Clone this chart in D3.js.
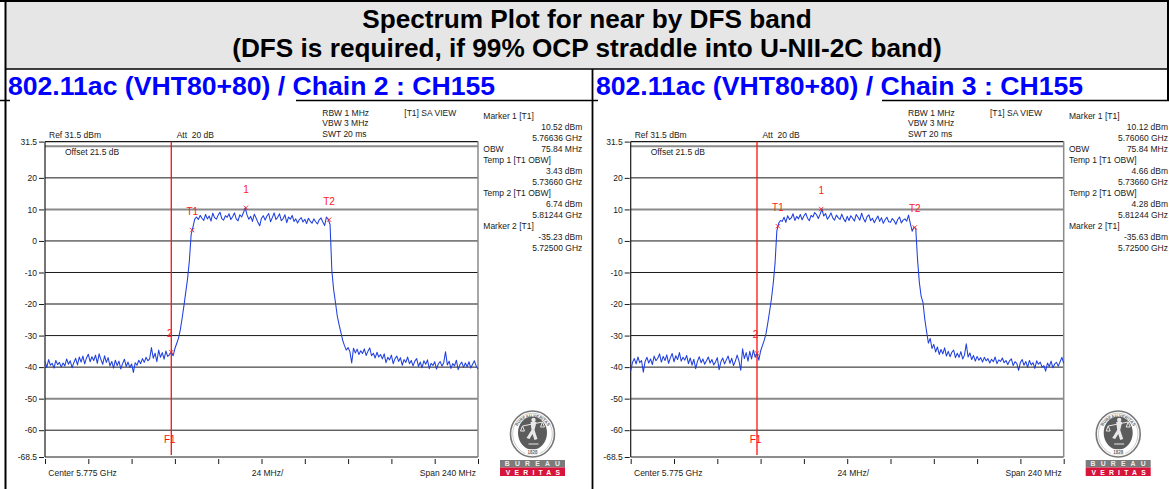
<!DOCTYPE html>
<html>
<head>
<meta charset="utf-8">
<script src="https://cdn.jsdelivr.net/npm/d3@7/dist/d3.min.js"></script>
<style>
  html, body { margin: 0; padding: 0; background: #fff; }
  svg { display: block; }
  text { font-family: "Liberation Sans", Arial, sans-serif; }
</style>
</head>
<body>
<svg id="chart" width="1169" height="489"></svg>
<script>
// ---------- data ----------
const titleLines = [
  "Spectrum Plot for near by DFS band",
  "(DFS is required, if 99% OCP straddle into U-NII-2C band)"
];
const panelTitles = [
  "802.11ac (VHT80+80) / Chain 2 : CH155",
  "802.11ac (VHT80+80) / Chain 3 : CH155"
];

// sweep: 241 points, 1 MHz apart, starting at 5.655 GHz (span 240 MHz)
const sweepStartGHz = 5.655;
const sweepStepGHz = 0.001;

// trace levels in dBm
const chain2Trace = [
  -38.2, -40.1, -37.6, -39.4, -38.8, -40.3, -37.9, -39.2, -38.5, -40.0,
  -38.7, -39.6, -37.4, -39.1, -38.0, -40.2, -38.6, -37.2, -39.3, -36.8,
  -38.4, -36.5, -39.0, -37.1, -35.9, -38.3, -36.7, -37.9, -36.2, -38.8,
  -35.8, -37.6, -39.1, -36.4, -38.5, -37.0, -39.6, -38.2, -40.3, -37.8,
  -39.5, -38.1, -40.6, -38.9, -37.5, -39.8, -38.4, -40.1, -39.0, -41.7,
  -38.6, -39.4, -37.8, -38.9, -37.3, -38.5, -36.9, -38.0, -37.4, -33.8,
  -37.2, -35.6, -38.3, -34.6, -36.9, -35.4, -37.5, -34.9, -36.6, -36.1,
  -35.23, -36.4, -34.1, -32.5, -30.8, -28.2, -24.5, -20.6, -16.3, -12.1,
  -6.4, 2.0, 4.4, 6.9, 7.6, 6.8, 8.1, 7.2, 6.5, 8.4,
  7.0, 7.9, 6.3, 8.8, 7.4, 6.9, 8.2, 9.1, 7.1, 6.6,
  8.0, 7.5, 8.6, 6.8, 7.7, 8.9, 7.0, 6.4, 8.3, 7.6,
  9.0, 10.52, 8.2, 6.9, 7.8, 6.2, 8.5, 7.3, 5.9, 4.8,
  7.2, 8.0, 6.6, 7.9, 8.7, 6.1, 7.4, 8.9, 6.8, 7.5,
  8.6, 6.4, 7.1, 8.3, 5.8, 7.6, 6.9, 8.1, 6.2, 7.0,
  5.7, 6.8, 7.4, 6.0, 6.9, 5.5, 7.2, 6.3, 5.6, 7.0,
  6.1, 5.4, 6.7, 7.3, 6.0, 4.9, 7.6, 6.8, 5.2, -9.5,
  -15.5, -19.5, -23.8, -26.5, -29.0, -31.5, -33.2, -34.6, -33.8, -35.1,
  -38.7, -34.0, -35.5, -34.3, -36.0, -34.8, -35.7, -34.2, -36.3, -35.0,
  -33.9, -36.4, -35.6, -37.1, -35.3, -36.8, -36.0, -37.4, -35.8, -38.6,
  -36.9, -37.7, -36.2, -38.9, -37.3, -36.5, -38.2, -37.0, -39.4, -37.6,
  -38.5, -36.8, -38.9, -37.9, -39.6, -38.1, -37.3, -39.8, -38.4, -40.2,
  -38.0, -39.1, -37.7, -40.5, -38.8, -39.5, -38.3, -40.6, -39.0, -38.2,
  -39.7, -38.6, -35.1, -39.3, -38.1, -40.4, -38.9, -39.6, -37.8, -40.8,
  -39.2, -38.4, -40.1, -38.7, -39.9, -38.3, -40.3, -39.1, -38.0, -39.7,
  -40.6
];

const chain3Trace = [
  -41.2, -38.5, -37.3, -39.0, -36.8, -38.6, -37.9, -41.6, -38.2, -36.9,
  -38.7, -37.4, -39.2, -36.5, -38.0, -37.2, -35.8, -38.4, -36.6, -37.9,
  -36.1, -38.8, -37.0, -35.7, -38.3, -36.4, -37.6, -35.4, -38.1, -36.9,
  -37.8, -36.3, -38.9, -37.1, -39.4, -37.5, -40.5, -38.2, -36.7, -38.6,
  -37.4, -39.1, -38.0, -36.8, -38.7, -37.6, -39.3, -38.4, -37.0, -40.8,
  -38.3, -37.1, -39.0, -37.7, -36.5, -38.8, -37.2, -39.5, -38.1, -36.2,
  -38.0, -41.0, -34.2, -37.3, -35.4, -38.1, -35.0, -37.4, -34.6, -36.9,
  -35.63, -37.8, -34.9, -33.2, -31.5, -29.4, -26.0, -22.3, -18.4, -13.5,
  -7.2, 3.2, 5.6, 6.5, 6.2, 7.5, 5.9, 8.0, 6.8, 7.3,
  8.6, 6.5, 7.8, 7.0, 8.4, 6.7, 7.9, 8.8, 7.2, 6.4,
  8.1, 7.6, 9.0, 8.3, 7.1, 8.5, 10.12, 7.9, 8.7, 6.9,
  7.7, 8.9, 7.3, 6.6, 8.2, 7.4, 6.8, 8.5, 7.0, 6.1,
  7.8, 6.5, 8.0, 7.2, 6.3, 8.4, 7.5, 6.6, 8.8, 7.1,
  6.0, 7.7, 8.3, 6.4, 7.2, 5.8, 6.9, 7.9, 6.2, 7.4,
  5.6, 6.7, 7.5, 6.1, 5.9, 7.1, 6.4, 5.3, 6.8, 7.6,
  5.7, 6.6, 7.0, 6.3, 8.2, 5.5, 3.1, 4.4, 3.9, -6.0,
  -13.2, -17.6, -19.5, -24.8, -28.7, -32.4, -30.9, -34.1, -32.8, -35.2,
  -33.6, -36.0, -34.4, -35.8, -33.9, -36.5, -35.0, -36.7, -35.3, -34.6,
  -37.0, -35.6, -36.9, -35.1, -37.4, -36.2, -32.6, -36.8, -35.5, -37.6,
  -36.3, -38.1, -36.6, -37.8, -37.0, -38.4, -36.9, -38.0, -37.3, -38.7,
  -37.5, -38.3, -36.8, -38.9, -37.7, -38.2, -37.1, -38.6, -37.9, -39.2,
  -38.0, -37.4, -39.5, -38.3, -38.8, -41.0, -38.5, -37.6, -39.4, -38.2,
  -40.1, -37.9, -39.3, -38.6, -40.4, -38.0, -39.1, -38.4, -40.0, -39.5,
  -41.3, -38.7, -39.8, -38.1, -40.2, -39.0, -38.5, -39.7, -38.3, -36.9,
  -38.8
];

// level axis
const yTickValues = [31.5, 20, 10, 0, -10, -20, -30, -40, -50, -60, -68.5];
const gridLevels  = [30, 20, 10, 0, -10, -20, -30, -40, -50, -60];
const heavyGridLevels = [30, 10, -20, -50];
// frequency divisions, 24 MHz apart
const freqTicks = [5.655, 5.679, 5.703, 5.727, 5.751, 5.775, 5.799, 5.823, 5.847, 5.871, 5.895];

// markers: frequency (GHz), level (dBm)
const chain2Markers = [
  { id: "1",  name: "Marker 1 [T1]",   f: 5.76636, v: 10.52 },
  { id: "T1", name: "Temp 1 [T1 OBW]", f: 5.73660, v: 3.43 },
  { id: "T2", name: "Temp 2 [T1 OBW]", f: 5.81244, v: 6.74 },
  { id: "2",  name: "Marker 2 [T1]",   f: 5.72500, v: -35.23 }
];
const chain3Markers = [
  { id: "1",  name: "Marker 1 [T1]",   f: 5.76060, v: 10.12 },
  { id: "T1", name: "Temp 1 [T1 OBW]", f: 5.73660, v: 4.66 },
  { id: "T2", name: "Temp 2 [T1 OBW]", f: 5.81244, v: 4.28 },
  { id: "2",  name: "Marker 2 [T1]",   f: 5.72500, v: -35.63 }
];
const obwMHz = [75.84, 75.84];
const displayLineF1 = 5.725;

const settingsLines = ["RBW 1 MHz", "VBW 3 MHz", "SWT 20 ms"];
const refText = "Ref 31.5 dBm";
const attText = "Att  20 dB";
const offsetText = "Offset 21.5 dB";
const modeText = "[T1] SA VIEW";
const centerText = "Center 5.775 GHz";
const divText = "24 MHz/";
const spanText = "Span 240 MHz";

// ---------- drawing ----------
const svg = d3.select("#chart");
const W = 1169, H = 489;

// title block
svg.append("rect").attr("x", 6).attr("y", 1).attr("width", W - 7).attr("height", 68)
  .attr("fill", "#e6e6e6");
svg.selectAll("text.title").data(titleLines).join("text")
  .attr("class", "title")
  .attr("x", 587).attr("y", (d, i) => 28 + i * 28.5)
  .attr("text-anchor", "middle")
  .attr("font-size", 26.2).attr("font-weight", "bold").attr("fill", "#000")
  .text(d => d);

// table rules
const rule = (x1, y1, x2, y2, w) => svg.append("line")
  .attr("x1", x1).attr("y1", y1).attr("x2", x2).attr("y2", y2)
  .attr("stroke", "#000").attr("stroke-width", w);
rule(0, 1, W, 1, 2);
rule(5.5, 0, 5.5, H, 2);
rule(W - 1, 0, W - 1, 100, 2);
rule(5, 69, W, 69, 1.5);
rule(592.5, 69, 592.5, H, 1.8);
rule(0, 100.5, 10, 100.5, 1.5);
rule(296, 100.5, 598, 100.5, 1.5);
rule(882, 100.5, W, 100.5, 1.5);

// panel headings
svg.selectAll("text.ptitle").data(panelTitles).join("text")
  .attr("class", "ptitle")
  .attr("x", (d, i) => i === 0 ? 8 : 596).attr("y", 94.5)
  .attr("font-size", 26.6).attr("font-weight", "bold").attr("fill", "#0000ff")
  .text(d => d);

function drawPanel(ox, trace, markers, obw) {
  const g = svg.append("g").attr("transform", `translate(${ox},0)`);
  const x = d3.scaleLinear().domain([5.655, 5.895]).range([45, 478]);
  const y = d3.scaleLinear().domain([-68.5, 31.5]).range([457, 141.6]);
  const small = 8.5;

  // grid
  g.selectAll("line.grid").data(gridLevels).join("line")
    .attr("x1", x(5.655)).attr("x2", x(5.895))
    .attr("y1", d => y(d)).attr("y2", d => y(d))
    .attr("stroke", d => heavyGridLevels.includes(d) ? "#8a8a8a" : "#1a1a1a")
    .attr("stroke-width", d => heavyGridLevels.includes(d) ? 2 : 1);

  // frame
  g.append("line").attr("x1", x(5.655)).attr("x2", x(5.895)).attr("y1", y(31.5)).attr("y2", y(31.5))
    .attr("stroke", "#1a1a1a").attr("stroke-width", 1.2);
  g.append("line").attr("x1", x(5.655)).attr("x2", x(5.895)).attr("y1", y(-68.5)).attr("y2", y(-68.5))
    .attr("stroke", "#1a1a1a").attr("stroke-width", 1);
  g.append("line").attr("x1", x(5.655)).attr("x2", x(5.655)).attr("y1", y(31.5)).attr("y2", y(-68.5))
    .attr("stroke", "#1a1a1a").attr("stroke-width", 1.2);
  g.append("line").attr("x1", x(5.895)).attr("x2", x(5.895)).attr("y1", y(31.5)).attr("y2", y(-68.5))
    .attr("stroke", "#8a8a8a").attr("stroke-width", 1.5);

  // level axis
  const ya = g.append("g").attr("transform", `translate(${x(5.655) - 1},0)`)
    .call(d3.axisLeft(y).tickValues(yTickValues).tickSize(5).tickPadding(2)
      .tickFormat(d => String(d)));
  ya.select(".domain").remove();
  ya.selectAll("line").attr("stroke", "#1a1a1a");
  ya.selectAll("text").attr("font-size", small).attr("fill", "#1a1a1a")
    .attr("font-family", "'Liberation Sans', Arial, sans-serif");

  // frequency divisions
  const xa = g.append("g").attr("transform", "translate(0,459)")
    .call(d3.axisBottom(x).tickValues(freqTicks).tickSize(5).tickFormat(""));
  xa.select(".domain").remove();
  xa.selectAll("line").attr("stroke", "#1a1a1a");

  // display line F1
  g.append("line").attr("x1", x(displayLineF1)).attr("x2", x(displayLineF1))
    .attr("y1", y(31.5)).attr("y2", 455)
    .attr("stroke", "#ff1010").attr("stroke-width", 1.3);
  g.append("text").attr("x", x(displayLineF1) - 1.5).attr("y", 442.5)
    .attr("text-anchor", "middle").attr("font-family", "'Liberation Serif', serif")
    .attr("font-size", 10).attr("fill", "#ff1010").text("F1");

  // trace
  const pts = trace.map((v, i) => [sweepStartGHz + i * sweepStepGHz, v]);
  g.append("path").datum(pts)
    .attr("fill", "none").attr("stroke", "#1f3fdf").attr("stroke-width", 1.05)
    .attr("stroke-linejoin", "round")
    .attr("d", d3.line().x(d => x(d[0])).y(d => y(d[1])));

  // markers
  g.selectAll("path.mk").data(markers).join("path")
    .attr("class", "mk")
    .attr("transform", d => `translate(${x(d.f)},${y(d.v)})`)
    .attr("d", d3.symbol(d3.symbolTimes, 14)())
    .attr("fill", "none").attr("stroke", "#ff2020").attr("stroke-width", 0.9);
  g.selectAll("text.mkl").data(markers).join("text")
    .attr("class", "mkl")
    .attr("x", d => x(d.f) + (d.id === "2" ? -1.5 : 0))
    .attr("y", d => y(d.v) - 15)
    .attr("text-anchor", "middle").attr("font-family", "'Liberation Serif', serif")
    .attr("font-size", 10).attr("fill", "#ff2020").text(d => d.id);

  // header texts
  const hdr = [
    { t: refText, x: 49, y: 138 },
    { t: attText, x: 176.7, y: 138 },
    { t: offsetText, x: 65, y: 155 },
    { t: modeText, x: 404.3, y: 115.5 }
  ].concat(settingsLines.map((t, i) => ({ t, x: 322.3, y: 115.5 + i * 10.7 })));
  g.selectAll("text.hdr").data(hdr).join("text")
    .attr("class", "hdr").attr("x", d => d.x).attr("y", d => d.y)
    .attr("font-size", small).attr("fill", "#1a1a1a").attr("xml:space", "preserve")
    .style("white-space", "pre").text(d => d.t);

  // marker readout
  const [m1, t1, t2, m2] = markers;
  const fmtL = v => v.toFixed(2) + " dBm";
  const fmtF = f => f.toFixed(5) + " GHz";
  const rows = [
    [m1.name, ""], ["", fmtL(m1.v)], ["", fmtF(m1.f)],
    ["OBW", obw.toFixed(2) + " MHz"],
    [t1.name, ""], ["", fmtL(t1.v)], ["", fmtF(t1.f)],
    [t2.name, ""], ["", fmtL(t2.v)], ["", fmtF(t2.f)],
    [m2.name, ""], ["", fmtL(m2.v)], ["", fmtF(m2.f)]
  ];
  rows.forEach((r, i) => {
    const yy = 119.2 + i * 11.0;
    if (r[0]) g.append("text").attr("x", 483.3).attr("y", yy)
      .attr("font-size", small).attr("fill", "#1a1a1a").text(r[0]);
    if (r[1]) g.append("text").attr("x", 582.3).attr("y", yy).attr("text-anchor", "end")
      .attr("font-size", small).attr("fill", "#1a1a1a").text(r[1]);
  });

  // footer texts
  g.append("text").attr("x", 48.3).attr("y", 476).attr("font-size", small).attr("fill", "#1a1a1a").text(centerText);
  g.append("text").attr("x", 251.7).attr("y", 476).attr("font-size", small).attr("fill", "#1a1a1a").text(divText);
  g.append("text").attr("x", 476).attr("y", 476).attr("text-anchor", "end").attr("font-size", small).attr("fill", "#1a1a1a").text(spanText);

  // certification seal
  const s = g.append("g").attr("transform", "translate(532.5,434)");
  s.append("ellipse").attr("rx", 22).attr("ry", 23).attr("fill", "#fff").attr("stroke", "#777").attr("stroke-width", 1.6);
  s.append("ellipse").attr("rx", 19.8).attr("ry", 20.8).attr("fill", "none").attr("stroke", "#aaa").attr("stroke-width", 0.6);
  s.append("ellipse").attr("rx", 14.5).attr("ry", 16.5).attr("cy", -1).attr("fill", "#5c5c5c");
  const arcId = "sealArc" + Math.round(ox);
  s.append("path").attr("id", arcId).attr("fill", "none")
    .attr("d", "M -17,6 A 17.5 18.5 0 1 1 17,6");
  s.append("text").attr("font-size", 4.2).attr("font-weight", "bold").attr("fill", "#666")
    .append("textPath").attr("href", "#" + arcId).attr("startOffset", "50%").attr("text-anchor", "middle")
    .text("BUREAU VERITAS");
  s.append("rect").attr("x", -7).attr("y", 15.5).attr("width", 14).attr("height", 5).attr("fill", "#fff");
  s.append("text").attr("y", 19.8).attr("text-anchor", "middle").attr("font-size", 4.5)
    .attr("font-weight", "bold").attr("fill", "#666").text("1828");
  // figure inside the seal
  const fig = "M -2,-12 L -1,-4 L -6,4 L -3,5 L 0,0 L 2,6 L 5,5 L 2,-4 L 4,-12 Z";
  s.append("path").attr("d", fig).attr("fill", "#e8e8e8");
  s.append("circle").attr("cx", 1).attr("cy", -14).attr("r", 2.2).attr("fill", "#e8e8e8");
  s.append("path").attr("d", "M -10,-8 L 10,-12 M -10,-8 L -12,-3 L -8,-3 Z M 10,-12 L 8,-7 L 12,-7 Z M -4,10 L 6,10")
    .attr("fill", "none").attr("stroke", "#e8e8e8").attr("stroke-width", 1);
  s.append("rect").attr("x", -32.5).attr("y", 26).attr("width", 65).attr("height", 7.5).attr("fill", "#7b7b7b");
  s.append("rect").attr("x", -32.5).attr("y", 33.5).attr("width", 65).attr("height", 8.5).attr("fill", "#d8143a");
  s.append("text").attr("x", 2.5).attr("y", 32.3).attr("text-anchor", "middle").attr("font-size", 6.8)
    .attr("font-weight", "bold").attr("fill", "#eee").attr("letter-spacing", 5.2).text("BUREAU");
  s.append("text").attr("x", 2.5).attr("y", 40.6).attr("text-anchor", "middle").attr("font-size", 6.8)
    .attr("font-weight", "bold").attr("fill", "#fff").attr("letter-spacing", 4.2).text("VERITAS");
}

drawPanel(0, chain2Trace, chain2Markers, obwMHz[0]);
drawPanel(585.7, chain3Trace, chain3Markers, obwMHz[1]);
</script>
</body>
</html>
